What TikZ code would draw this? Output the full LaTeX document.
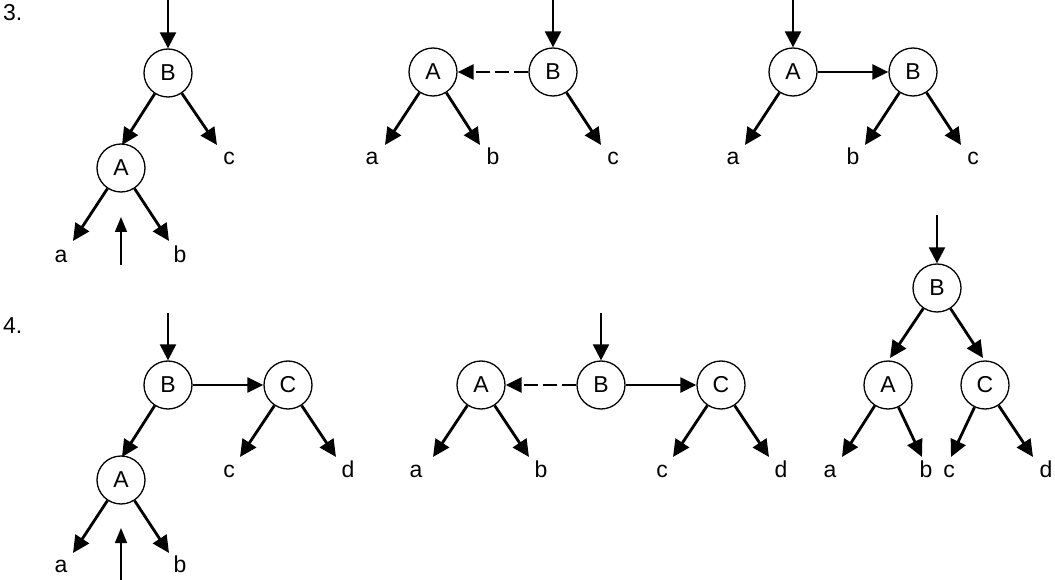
\documentclass[tikz,border=0pt]{standalone}
\usepackage{fontspec}
\setmainfont{Liberation Sans}
\usetikzlibrary{arrows.meta}
\begin{document}
\begin{tikzpicture}[x=1pt,y=1pt,
  circ/.style={circle,draw,line width=1.3pt,minimum size=48pt,inner sep=0pt,font=\fontsize{23}{27}\selectfont},
  lab/.style={anchor=base,inner sep=0pt,font=\fontsize{23}{27}\selectfont},
  arr/.style={line width=2.8pt,-{Triangle[length=17pt,width=16pt]}},
  inarr/.style={line width=2.3pt,-{Triangle[length=16pt,width=16pt]}},
  harr/.style={line width=2.3pt,-{Triangle[length=16pt,width=15pt]}},
  dsh/.style={line width=2.6pt,dash pattern=on 14pt off 5pt,-{Triangle[length=16pt,width=15pt]}},
  uparr/.style={line width=1.6pt,-{Triangle[length=15pt,width=12pt]}}]
\useasboundingbox (0,0) rectangle (1055,-580);

% row labels
\node[lab,anchor=base west] (n3) at (3,-21) {3.};
\node[lab,anchor=base west] (n4) at (3,-333) {4.};

% ---------- 3a ----------
\node[circ] (B1) at (168,-73) {B};
\node[circ] (A1) at (121,-168) {A};
\coordinate (t1) at (168,0);
\coordinate (B1A) at (122,-145);
\coordinate (B1c) at (217,-145);
\coordinate (A1a) at (73,-241);
\coordinate (A1b) at (169,-241);
\coordinate (u1s) at (121,-265);
\coordinate (u1e) at (121,-217);
\draw[inarr] (t1) -- (B1);
\draw[arr] (B1) -- (B1A);
\draw[arr] (B1) -- (B1c);
\draw[arr] (A1) -- (A1a);
\draw[arr] (A1) -- (A1b);
\draw[uparr] (u1s) -- (u1e);
\node[lab] (l1c) at (229,-165) {c};
\node[lab] (l1a) at (61,-262) {a};
\node[lab] (l1b) at (180,-262) {b};

% ---------- 3b ----------
\node[circ] (A2) at (433,-72) {A};
\node[circ] (B2) at (553,-72) {B};
\coordinate (t2) at (553,0);
\coordinate (A2a) at (385,-145);
\coordinate (A2b) at (480,-145);
\coordinate (B2c) at (601,-145);
\draw[inarr] (t2) -- (B2);
\draw[dsh] (B2) -- (A2);
\draw[arr] (A2) -- (A2a);
\draw[arr] (A2) -- (A2b);
\draw[arr] (B2) -- (B2c);
\node[lab] (l2a) at (372,-165) {a};
\node[lab] (l2b) at (493,-165) {b};
\node[lab] (l2c) at (613,-165) {c};

% ---------- 3c ----------
\node[circ] (A3) at (793,-72) {A};
\node[circ] (B3) at (913,-72) {B};
\coordinate (t3) at (793,0);
\coordinate (A3a) at (745,-145);
\coordinate (B3b) at (865,-145);
\coordinate (B3c) at (961,-145);
\draw[inarr] (t3) -- (A3);
\draw[harr] (A3) -- (B3);
\draw[arr] (A3) -- (A3a);
\draw[arr] (B3) -- (B3b);
\draw[arr] (B3) -- (B3c);
\node[lab] (l3a) at (733,-165) {a};
\node[lab] (l3b) at (853,-165) {b};
\node[lab] (l3c) at (973,-165) {c};

% ---------- 4a ----------
\node[circ] (B4) at (168,-385) {B};
\node[circ] (C4) at (288,-385) {C};
\node[circ] (A4) at (121,-480) {A};
\coordinate (t4) at (168,-313);
\coordinate (B4A) at (122,-457);
\coordinate (C4c) at (240,-457);
\coordinate (C4d) at (336,-457);
\coordinate (A4a) at (73,-553);
\coordinate (A4b) at (169,-553);
\coordinate (u4s) at (121,-580);
\coordinate (u4e) at (121,-528);
\draw[inarr] (t4) -- (B4);
\draw[harr] (B4) -- (C4);
\draw[arr] (B4) -- (B4A);
\draw[arr] (C4) -- (C4c);
\draw[arr] (C4) -- (C4d);
\draw[arr] (A4) -- (A4a);
\draw[arr] (A4) -- (A4b);
\draw[uparr] (u4s) -- (u4e);
\node[lab] (l4c) at (229,-477) {c};
\node[lab] (l4d) at (348,-477) {d};
\node[lab] (l4a) at (61,-572) {a};
\node[lab] (l4b) at (180,-572) {b};

% ---------- 4b ----------
\node[circ] (A5) at (481,-385) {A};
\node[circ] (B5) at (601,-385) {B};
\node[circ] (C5) at (721,-385) {C};
\coordinate (t5) at (601,-313);
\coordinate (A5a) at (433,-457);
\coordinate (A5b) at (529,-457);
\coordinate (C5c) at (673,-457);
\coordinate (C5d) at (769,-457);
\draw[inarr] (t5) -- (B5);
\draw[dsh] (B5) -- (A5);
\draw[harr] (B5) -- (C5);
\draw[arr] (A5) -- (A5a);
\draw[arr] (A5) -- (A5b);
\draw[arr] (C5) -- (C5c);
\draw[arr] (C5) -- (C5d);
\node[lab] (l5a) at (416,-477) {a};
\node[lab] (l5b) at (541,-477) {b};
\node[lab] (l5c) at (662,-477) {c};
\node[lab] (l5d) at (781,-477) {d};

% ---------- 4c ----------
\node[circ] (B6) at (937,-288) {B};
\node[circ] (A6) at (888,-385) {A};
\node[circ] (C6) at (985,-385) {C};
\coordinate (t6) at (937,-215);
\coordinate (B6A) at (890,-358);
\coordinate (B6C) at (983,-358);
\coordinate (A6a) at (842,-457);
\coordinate (A6b) at (922,-457);
\coordinate (C6c) at (951,-457);
\coordinate (C6d) at (1033,-457);
\draw[inarr] (t6) -- (B6);
\draw[arr] (B6) -- (B6A);
\draw[arr] (B6) -- (B6C);
\draw[arr] (A6) -- (A6a);
\draw[arr] (A6) -- (A6b);
\draw[arr] (C6) -- (C6c);
\draw[arr] (C6) -- (C6d);
\node[lab] (l6a) at (830,-477) {a};
\node[lab] (l6b) at (926,-477) {b};
\node[lab] (l6c) at (949,-477) {c};
\node[lab] (l6d) at (1046,-477) {d};
\end{tikzpicture}
\end{document}
